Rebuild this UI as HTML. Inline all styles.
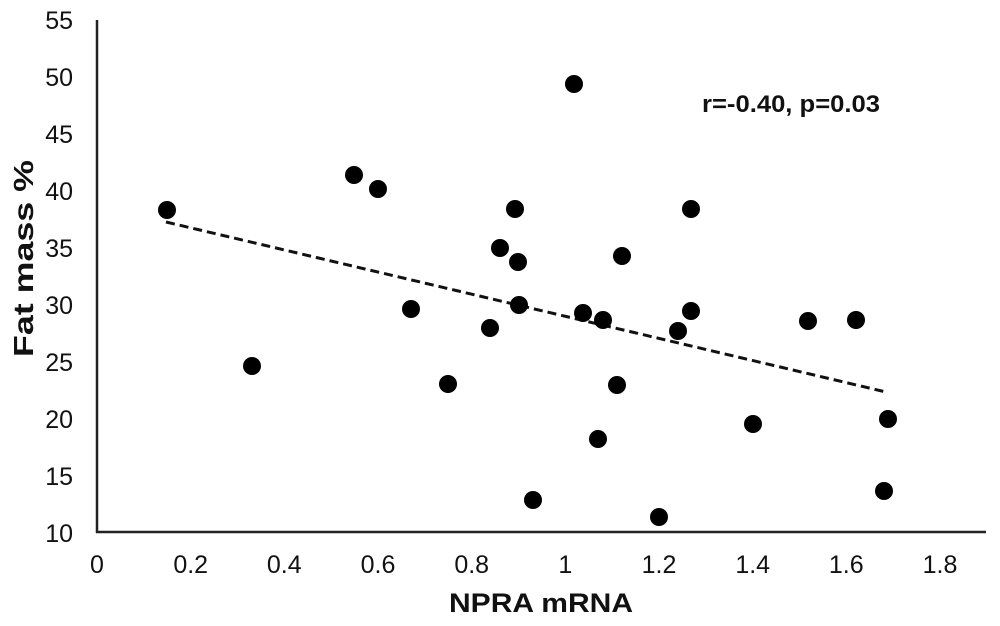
<!DOCTYPE html>
<html><head><meta charset="utf-8"><style>body{margin:0;background:#fff}svg{display:block}</style></head><body>
<svg width="1000" height="626" xmlns="http://www.w3.org/2000/svg" font-family="Liberation Sans, Arial, sans-serif">
<rect width="1000" height="626" fill="#fff"/>
<line x1="97" y1="20" x2="97" y2="533" stroke="#222" stroke-width="2.5"/>
<line x1="96" y1="532" x2="986" y2="532" stroke="#222" stroke-width="2.5"/>
<g font-size="25" fill="#111" text-anchor="end">
<text x="73" y="29">55</text><text x="73" y="86">50</text><text x="73" y="143">45</text><text x="73" y="200">40</text><text x="73" y="257">35</text><text x="73" y="314">30</text><text x="73" y="371">25</text><text x="73" y="428">20</text><text x="73" y="485">15</text><text x="73" y="542">10</text>
</g>
<g font-size="25" fill="#111" text-anchor="middle">
<text x="97" y="573">0</text><text x="190.7" y="573">0.2</text><text x="284.3" y="573">0.4</text><text x="378" y="573">0.6</text><text x="471.7" y="573">0.8</text><text x="565.3" y="573">1</text><text x="659" y="573">1.2</text><text x="752.7" y="573">1.4</text><text x="846.3" y="573">1.6</text><text x="940" y="573">1.8</text>
</g>
<text x="449" y="612" font-size="27" font-weight="bold" fill="#111" textLength="184" lengthAdjust="spacingAndGlyphs">NPRA mRNA</text>
<text transform="translate(33,357) rotate(-90)" font-size="28" font-weight="bold" fill="#111" textLength="197" lengthAdjust="spacingAndGlyphs">Fat mass %</text>
<text x="702" y="112" font-size="24" font-weight="bold" fill="#111" textLength="178" lengthAdjust="spacingAndGlyphs">r=-0.40, p=0.03</text>
<line x1="166" y1="222" x2="886" y2="392" stroke="#111" stroke-width="3" stroke-dasharray="9,5"/>
<g fill="#000">
<circle cx="167" cy="210" r="9"/><circle cx="252" cy="366" r="9"/><circle cx="354" cy="175" r="9"/><circle cx="378" cy="189" r="9"/><circle cx="411" cy="309" r="9"/><circle cx="448" cy="384" r="9"/><circle cx="490" cy="328" r="9"/><circle cx="500" cy="248" r="9"/><circle cx="515" cy="209" r="9"/><circle cx="518" cy="262" r="9"/><circle cx="519" cy="305" r="9"/><circle cx="533" cy="500" r="9"/><circle cx="574" cy="84" r="9"/><circle cx="583" cy="313" r="9"/><circle cx="598" cy="439" r="9"/><circle cx="603" cy="320" r="9"/><circle cx="617" cy="385" r="9"/><circle cx="622" cy="256" r="9"/><circle cx="659" cy="517" r="9"/><circle cx="678" cy="331" r="9"/><circle cx="691" cy="311" r="9"/><circle cx="691" cy="209" r="9"/><circle cx="753" cy="424" r="9"/><circle cx="808" cy="321" r="9"/><circle cx="856" cy="320" r="9"/><circle cx="884" cy="491" r="9"/><circle cx="888" cy="419" r="9"/>
</g>
</svg>
</body></html>
